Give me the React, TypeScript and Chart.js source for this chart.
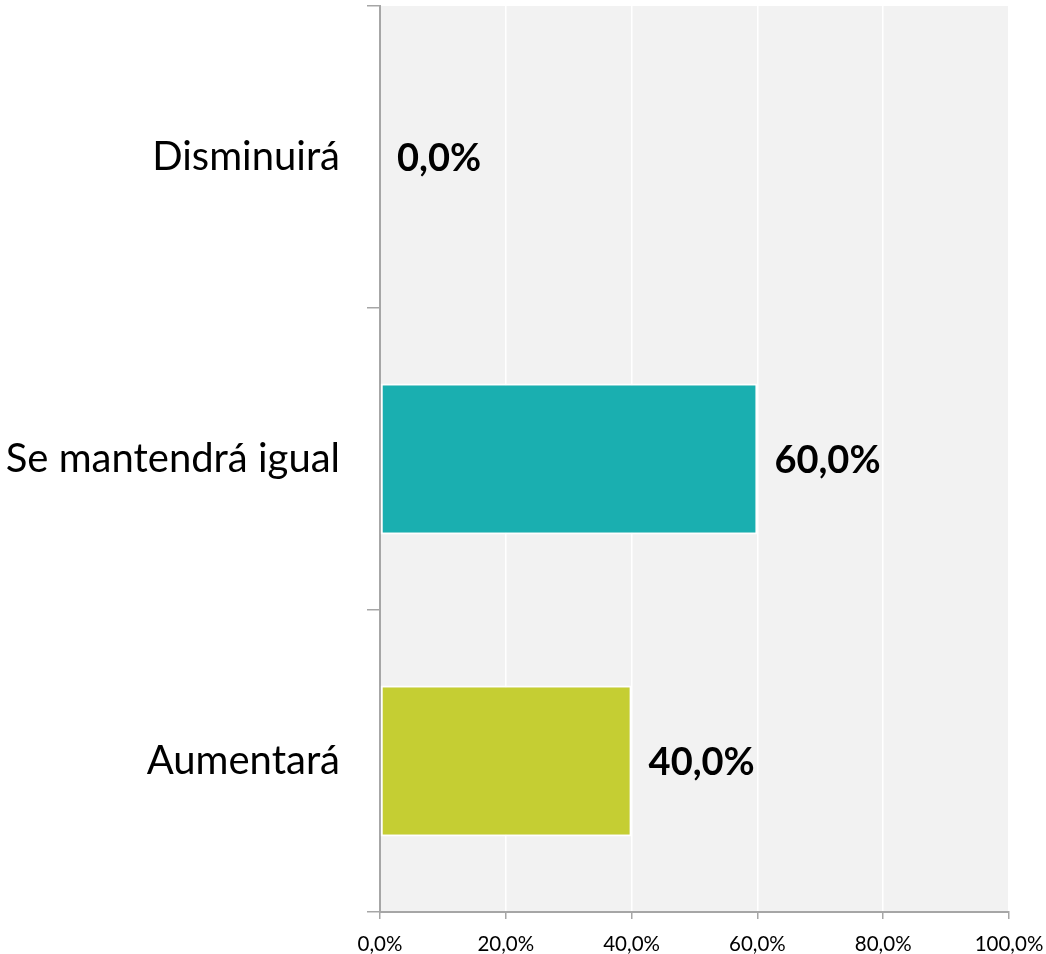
import React, { useEffect, useRef } from "react";
import { Chart, registerables } from "chart.js";

Chart.register(...registerables);

const categories = ["Disminuirá", "Se mantendrá igual", "Aumentará"];
const values = [0, 60, 40];
const barColors = ["#1AAFB0", "#1AAFB0", "#C5CE33"];
const xTicks = [0, 20, 40, 60, 80, 100];

const FONT = "Lato, 'Open Sans', sans-serif";
const fmt = (v: number) => v.toFixed(1).replace(".", ",") + "%";

const bgPlugin = {
  id: "plotBg",
  beforeDraw(chart: any) {
    const { ctx, chartArea } = chart;
    ctx.save();
    ctx.fillStyle = "#F2F2F2";
    ctx.fillRect(chartArea.left, chartArea.top, chartArea.right - chartArea.left, chartArea.bottom - chartArea.top);
    ctx.restore();
  },
};

const labelPlugin = {
  id: "valueLabels",
  afterDatasetsDraw(chart: any) {
    const { ctx } = chart;
    const meta = chart.getDatasetMeta(0);
    ctx.save();
    ctx.font = `bold 38px ${FONT}`;
    ctx.fillStyle = "#000";
    ctx.textAlign = "left";
    ctx.textBaseline = "middle";
    meta.data.forEach((bar: any, i: number) => {
      ctx.fillText(fmt(values[i]), bar.x + 17, bar.y + 2);
    });
    ctx.restore();
  },
};

export default function App() {
  const ref = useRef<HTMLCanvasElement>(null);
  useEffect(() => {
    const chart = new Chart(ref.current!, {
      type: "bar",
      data: {
        labels: categories,
        datasets: [
          {
            data: values,
            backgroundColor: barColors,
            borderColor: "#FFFFFF",
            borderWidth: 2,
            borderSkipped: false,
            barPercentage: 0.5,
            categoryPercentage: 1,
          },
        ],
      },
      options: {
        indexAxis: "y",
        animation: false,
        responsive: false,
        maintainAspectRatio: false,
        layout: { padding: { top: 6, right: 37, left: 0, bottom: 0 } },
        plugins: { legend: { display: false }, tooltip: { enabled: false } },
        scales: {
          x: {
            min: 0,
            max: 100,
            afterBuildTicks: (s: any) => {
              s.ticks = xTicks.map((v) => ({ value: v }));
            },
            afterFit: (s: any) => {
              s.height = 42;
              s.paddingLeft = 0;
              s.paddingRight = 0;
            },
            ticks: {
              callback: (v: any) => fmt(Number(v)),
              color: "#000",
              font: { family: FONT, size: 20.5 },
              padding: 13,
              maxRotation: 0,
            },
            grid: {
              color: "#FFFFFF",
              lineWidth: 1.5,
              tickColor: "#A6A6A6",
              tickLength: 7,
              drawTicks: true,
            },
            border: { color: "#A6A6A6", width: 2 },
          },
          y: {
            afterFit: (s: any) => {
              s.width = 380;
              s.paddingTop = 0;
              s.paddingBottom = 0;
            },
            ticks: {
              color: "#000",
              font: { family: FONT, size: 40 },
              padding: 27,
            },
            grid: {
              offset: true,
              drawOnChartArea: false,
              drawTicks: true,
              tickLength: 13,
              tickColor: "#A6A6A6",
              lineWidth: 1.5,
            },
            border: { color: "#A6A6A6", width: 2 },
          },
        },
      },
      plugins: [bgPlugin, labelPlugin],
    });
    return () => chart.destroy();
  }, []);
  return (
    <div style={{ position: "fixed", left: 0, top: 0, width: 1046, height: 954, background: "#fff" }}>
      <canvas ref={ref} width={1046} height={954} style={{ width: 1046, height: 954 }} />
    </div>
  );
}
